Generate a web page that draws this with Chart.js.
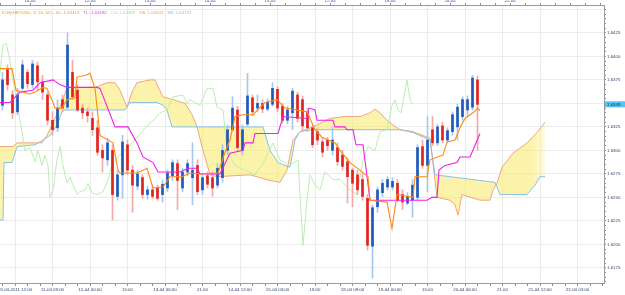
<!DOCTYPE html>
<html>
<head>
<meta charset="utf-8">
<script src="https://cdn.jsdelivr.net/npm/chart.js@4.4.0/dist/chart.umd.min.js"></script>
<style>
  html, body { margin: 0; padding: 0; background: #fff; }
  canvas { display: block; }
</style>
</head>
<body>
<canvas id="grafico" width="625" height="295"></canvas>
<script>
// candles de 2 horas (GBP/USD), na ordem
var abertura = [1.6348,1.6386,1.6359,1.6341,1.6366,1.6383,1.6370,1.6390,1.6373,1.6359,
  1.6332,1.6324,1.6354,1.6346,1.6383,1.6364,1.6345,1.6341,1.6334,1.6324,
  1.6300,1.6290,1.6300,1.6251,1.6274,1.6306,1.6279,1.6262,1.6271,1.6253,
  1.6258,1.6260,1.6253,1.6260,1.6273,1.6286,1.6260,1.6277,1.6271,1.6284,
  1.6258,1.6273,1.6271,1.6263,1.6271,1.6300,1.6322,1.6343,1.6300,1.6328,
  1.6356,1.6345,1.6350,1.6344,1.6349,1.6365,1.6347,1.6332,1.6340,1.6359,
  1.6354,1.6341,1.6324,1.6320,1.6309,1.6311,1.6300,1.6303,1.6295,1.6288,
  1.6279,1.6274,1.6269,1.6249,1.6198,1.6240,1.6255,1.6261,1.6261,1.6265,
  1.6253,1.6244,1.6247,1.6250,1.6304,1.6284,1.6322,1.6308,1.6326,1.6311,
  1.6320,1.6325,1.6336,1.6343,1.6346,1.6375];
var maxima = [1.6383,1.6391,1.6364,1.6366,1.6396,1.6386,1.6396,1.6394,1.6380,1.6362,
  1.6341,1.6354,1.6359,1.6425,1.6396,1.6370,1.6349,1.6345,1.6341,1.6332,
  1.6306,1.6313,1.6306,1.6279,1.6316,1.6311,1.6284,1.6279,1.6274,1.6262,
  1.6263,1.6263,1.6268,1.6279,1.6290,1.6290,1.6281,1.6290,1.6308,1.6290,
  1.6274,1.6277,1.6277,1.6286,1.6306,1.6327,1.6357,1.6347,1.6327,1.6382,
  1.6359,1.6359,1.6354,1.6355,1.6372,1.6368,1.6350,1.6347,1.6366,1.6362,
  1.6358,1.6345,1.6327,1.6324,1.6313,1.6314,1.6325,1.6308,1.6300,1.6292,
  1.6281,1.6279,1.6276,1.6253,1.6242,1.6261,1.6269,1.6272,1.6271,1.6269,
  1.6258,1.6255,1.6269,1.6306,1.6311,1.6336,1.6336,1.6328,1.6330,1.6324,
  1.6341,1.6349,1.6357,1.6358,1.6380,1.6379];
var minimos = [1.6343,1.6364,1.6334,1.6338,1.6364,1.6366,1.6366,1.6364,1.6354,1.6327,
  1.6316,1.6320,1.6341,1.6343,1.6354,1.6341,1.6334,1.6330,1.6316,1.6295,
  1.6277,1.6284,1.6226,1.6247,1.6249,1.6274,1.6234,1.6258,1.6249,1.6248,
  1.6249,1.6247,1.6245,1.6256,1.6268,1.6237,1.6256,1.6273,1.6242,1.6253,
  1.6253,1.6260,1.6251,1.6260,1.6266,1.6295,1.6320,1.6300,1.6295,1.6326,
  1.6337,1.6341,1.6340,1.6342,1.6347,1.6341,1.6329,1.6328,1.6322,1.6330,
  1.6322,1.6320,1.6303,1.6306,1.6293,1.6300,1.6295,1.6284,1.6279,1.6244,
  1.6240,1.6253,1.6247,1.6194,1.6164,1.6234,1.6251,1.6258,1.6258,1.6245,
  1.6237,1.6242,1.6229,1.6247,1.6281,1.6256,1.6305,1.6305,1.6308,1.6308,
  1.6316,1.6311,1.6332,1.6336,1.6343,1.6300];
var fechamento = [1.6375,1.6370,1.6340,1.6359,1.6391,1.6371,1.6392,1.6373,1.6362,1.6332,
  1.6322,1.6345,1.6345,1.6412,1.6357,1.6343,1.6340,1.6337,1.6322,1.6298,
  1.6292,1.6308,1.6253,1.6274,1.6309,1.6279,1.6263,1.6275,1.6253,1.6258,
  1.6251,1.6249,1.6264,1.6276,1.6287,1.6268,1.6277,1.6286,1.6279,1.6256,
  1.6271,1.6264,1.6260,1.6281,1.6300,1.6322,1.6345,1.6303,1.6322,1.6358,
  1.6341,1.6350,1.6344,1.6351,1.6366,1.6345,1.6332,1.6343,1.6363,1.6334,
  1.6326,1.6324,1.6306,1.6311,1.6298,1.6305,1.6311,1.6288,1.6283,1.6272,
  1.6265,1.6258,1.6251,1.6199,1.6239,1.6258,1.6265,1.6269,1.6267,1.6247,
  1.6245,1.6251,1.6263,1.6303,1.6284,1.6311,1.6308,1.6325,1.6311,1.6321,
  1.6338,1.6346,1.6354,1.6354,1.6377,1.6349];

// linhas do Ichimoku: posicao (horas de pregao) e valor
var horasSL = [0,4.8,6.4,12,14,17.2,18.8,21.2,22,24.8,26.8,30,30.8,34.4,36,38,40,45.2,47.2,48,54.8,58.8,61.2,65.2,68,72.8,76,80,87.2,90,92,94,97.2,101.2,106,110.8,114,118.8,122.8,126,128.8,134,136,140,144,147.2,148,154.8,156.8,158.8,165.2,166,170.8,172,177.2,178.8,182,184,186,189.2,191.2,192];
var valoresSL = [1.6387,1.6387,1.6364,1.6360,1.6362,1.6367,1.6366,1.6351,1.6345,1.6345,1.6354,1.6356,1.6378,1.6380,1.6382,1.6366,1.6316,1.6308,1.6279,1.6276,1.6276,1.6281,1.6260,1.6261,1.6272,1.6272,1.6276,1.6275,1.6276,1.6298,1.6311,1.6336,1.6338,1.6338,1.6351,1.6354,1.6345,1.6343,1.6341,1.6322,1.6314,1.6308,1.6300,1.6287,1.6279,1.6272,1.6247,1.6245,1.6217,1.6253,1.6250,1.6272,1.6272,1.6290,1.6295,1.6309,1.6311,1.6324,1.6334,1.6340,1.6345,1.6342];

var horasTL = [0,4,8,13.2,16,21.2,24,26.8,38.8,40,46,51.2,54.8,57.2,61.2,63.2,72,75.2,78.8,80,88,92,97.2,98,101.2,102,111.2,113.2,122.8,123.6,126,126.8,133.2,134,138,138.8,141.2,142.4,145.2,148,170.8,172.8,174.8,175.6,178,182.8,184,188,192];
var valoresTL = [1.6351,1.6351,1.6362,1.6364,1.6372,1.6375,1.6370,1.6367,1.6367,1.6366,1.6325,1.6325,1.6308,1.6293,1.6287,1.6277,1.6277,1.6281,1.6281,1.6275,1.6275,1.6297,1.6300,1.6308,1.6308,1.6318,1.6318,1.6336,1.6334,1.6345,1.6343,1.6332,1.6332,1.6325,1.6325,1.6322,1.6322,1.6306,1.6306,1.6247,1.6247,1.6250,1.6250,1.6279,1.6284,1.6287,1.6293,1.6293,1.6318];

var horasCS = [0,1.2,2.4,3.6,5.2,8,10,12,14,15.2,16.8,18,19.2,20,21.2,22.8,24,25.2,26.8,28,29.2,30.8,32,34,35.2,36.8,38.8,41.2,43.2,44.8,46.8,50,54,58,62,64,66.8,69.2,73.2,74.8,76,80,82.8,85.2,86.8,89.2,90.8,94,98,102,106,109.2,112,116,119.2,121.2,122.8,124,126,128,130,133.2,136,140,142.8,145.2,147.2,150,152,154.8,156.8,158,159.2,160.4,162.8,164,165.2];
var valoresCS = [1.6382,1.6412,1.6414,1.6401,1.6375,1.6332,1.6300,1.6303,1.6288,1.6300,1.6284,1.6295,1.6284,1.6250,1.6258,1.6290,1.6304,1.6284,1.6265,1.6272,1.6263,1.6253,1.6256,1.6258,1.6265,1.6255,1.6253,1.6256,1.6269,1.6284,1.6292,1.6300,1.6311,1.6324,1.6334,1.6340,1.6343,1.6357,1.6359,1.6350,1.6354,1.6348,1.6366,1.6366,1.6346,1.6343,1.6300,1.6284,1.6279,1.6274,1.6290,1.6308,1.6290,1.6284,1.6290,1.6199,1.6247,1.6274,1.6263,1.6258,1.6277,1.6269,1.6269,1.6258,1.6253,1.6290,1.6304,1.6300,1.6320,1.6322,1.6348,1.6354,1.6343,1.6340,1.6375,1.6354,1.6349];

var horasSA = [0,5.2,6.8,16.8,18.8,22,25.2,26.4,27.2,38,40,42.8,46,48,50.8,52.8,54.8,60,62,62.8,65.2,69.2,74,76.8,78.8,81.2,84,86.8,100,108,112,114.8,117.2,120,125.2,132,138,144,148,150,152,154.8,157.2,160,165.2,172,174.8,180,182,183.2,184.8,192,196,197.2,198.8,200.8,205.2,210.8,214.8,218];
var valoresSA = [1.6304,1.6304,1.6308,1.6308,1.6316,1.6334,1.6354,1.6364,1.6367,1.6367,1.6369,1.6372,1.6372,1.6364,1.6346,1.6362,1.6372,1.6375,1.6375,1.6370,1.6357,1.6354,1.6350,1.6338,1.6325,1.6300,1.6274,1.6272,1.6274,1.6268,1.6266,1.6279,1.6311,1.6320,1.6325,1.6334,1.6336,1.6336,1.6340,1.6344,1.6340,1.6332,1.6327,1.6322,1.6320,1.6313,1.6250,1.6247,1.6242,1.6231,1.6253,1.6247,1.6247,1.6258,1.6265,1.6282,1.6297,1.6308,1.6319,1.6330];

var horasSB = [0,1.2,1.6,4.8,6.8,14,17.2,20,22.8,24.8,26,50,50.8,52,62.8,65.2,66.8,68.8,105.2,108,111.2,116,118,120,125.2,160,165.2,172,174,198,200,210.8,214,216,218];
var valoresSB = [1.6226,1.6226,1.6287,1.6287,1.6304,1.6306,1.6311,1.6316,1.6327,1.6341,1.6343,1.6343,1.6346,1.6351,1.6351,1.6348,1.6343,1.6325,1.6325,1.6300,1.6287,1.6282,1.6311,1.6320,1.6322,1.6322,1.6319,1.6311,1.6274,1.6266,1.6253,1.6253,1.6263,1.6272,1.6272];

// eixos
var horasEixoBaixo = [6,21,36,51,66,81,96,111,126,141,156,171,186,201,216,231];
var rotulosEixoBaixo = ["09-04-2011 12:00","11-04 09:00","12-04 00:00","15:00","13-04 06:00","21:00","14-04 12:00","15-04 03:00","18:00","18-04 09:00","19-04 00:00","15:00","20-04 06:00","21:00","21-04 12:00","22-04 03:00"];
var horasEixoTopo = [12,36,60,84,108,132,156,180,204];
var rotulosEixoTopo = ["10-04","12-04","13-04","14-04","15-04","17-04","19-04","20-04","21-04"];

var legenda = [
  { texto: "ICH(GBP/USD, 9, 26, 52) - SL: 1.63419", cor: "#f5962e" },
  { texto: "TL: 1.63182", cor: "#e43be0" },
  { texto: "CS: 1.63489", cor: "#9ee39a" },
  { texto: "SA: 1.63305", cor: "#f2a47c" },
  { texto: "SB: 1.62722", cor: "#7dbde3" }
];
var ultimoPreco = 1.6349;

var fonte = { family: "Liberation Sans", size: 4.4 };
var corTexto = "#33446e";

// nuvem amarela, some perto da borda direita
var tela = document.getElementById("grafico");
var corNuvem = tela.getContext("2d").createLinearGradient(532, 0, 553, 0);
corNuvem.addColorStop(0, "rgba(250, 236, 120, 0.62)");
corNuvem.addColorStop(1, "rgba(250, 236, 120, 0)");

function pontos(horas, valores) {
  var lista = [];
  for (var i = 0; i < horas.length; i++) lista.push({ x: horas[i], y: valores[i] });
  return lista;
}

var pavios = [], corpos = [], corPavio = [], corCorpo = [];
for (var i = 0; i < fechamento.length; i++) {
  var h = 2 * i + 1;
  var alta = fechamento[i] >= abertura[i];
  pavios.push({ x: h, y: [minimos[i], maxima[i]] });
  corpos.push({ x: h, y: [abertura[i], fechamento[i]] });
  corPavio.push(alta ? "#a6c8ec" : "#f3a9a9");
  corCorpo.push(alta ? "#1d58ba" : "#e0231f");
}

var ticksBaixo = [];
for (var t = 1; t <= 241; t += 5) ticksBaixo.push({ value: t });
var ticksTopo = [];
for (var t2 = 0; t2 <= 240; t2 += 6) ticksTopo.push({ value: t2 });
var ticksY = [];
for (var k = 16160; k <= 16450; k += 5) ticksY.push({ value: k / 10000 });

function ehMaiorY(v) { return Math.round(v * 10000) % 25 === 0; }

const legendaICH = {
  id: "legendaICH",
  afterDraw(chart) {
    var ctx = chart.ctx;
    ctx.save();
    ctx.font = "4.4px 'Liberation Sans'";
    ctx.textBaseline = "middle";
    var x = 2;
    legenda.forEach(function (p) {
      ctx.fillStyle = p.cor;
      ctx.fillText(p.texto, x, 12.5);
      x += ctx.measureText(p.texto).width + 4;
    });
    var y = chart.scales.y.getPixelForValue(ultimoPreco);
    ctx.fillStyle = "#56c2ef";
    ctx.fillRect(chart.chartArea.right + 1, y - 3, 21, 6);
    ctx.fillStyle = "#17305c";
    ctx.fillText(ultimoPreco.toFixed(4), chart.chartArea.right + 3, y + 0.3);
    ctx.restore();
  }
};

new Chart(tela, {
  type: "line",
  data: {
    datasets: [
      { label: "SA", data: pontos(horasSA, valoresSA), borderColor: "#f2a47c", borderWidth: 1, pointRadius: 0,
        fill: { target: 1, above: corNuvem, below: corNuvem }, backgroundColor: corNuvem, order: 10 },
      { label: "SB", data: pontos(horasSB, valoresSB), borderColor: "#86c2e6", borderWidth: 1, pointRadius: 0, fill: false, order: 9 },
      { label: "CS", data: pontos(horasCS, valoresCS), borderColor: "#b9efb0", borderWidth: 1, pointRadius: 0, fill: false, order: 8 },
      { type: "bar", label: "pavio", data: pavios, backgroundColor: corPavio, barThickness: 1, grouped: false, order: 7 },
      { type: "bar", label: "corpo", data: corpos, backgroundColor: corCorpo, barThickness: 2, grouped: false, order: 6 },
      { label: "TL", data: pontos(horasTL, valoresTL), borderColor: "#f01ee8", borderWidth: 1.1, pointRadius: 0, fill: false, order: 5 },
      { label: "SL", data: pontos(horasSL, valoresSL), borderColor: "#ff8a12", borderWidth: 1.1, pointRadius: 0, fill: false, order: 4 }
    ]
  },
  options: {
    responsive: false,
    animation: false,
    devicePixelRatio: 1,
    layout: { padding: 0 },
    plugins: { legend: { display: false }, tooltip: { enabled: false } },
    scales: {
      x: {
        type: "linear", position: "bottom", min: 0, max: 241.6, offset: false,
        afterBuildTicks: function (s) { s.ticks = ticksBaixo.slice(); },
        afterFit: function (s) { s.height = 12; },
        ticks: {
          autoSkip: false, maxRotation: 0, padding: 1, font: fonte, color: corTexto,
          callback: function (v) { var i = horasEixoBaixo.indexOf(v); return i >= 0 ? rotulosEixoBaixo[i] : ""; }
        },
        grid: {
          offset: false, tickLength: 3, tickColor: "#8a8fa0",
          color: function (c) { return c.tick && horasEixoBaixo.indexOf(c.tick.value) >= 0 ? "#ebebeb" : "rgba(0,0,0,0)"; }
        },
        border: { color: "#9a9a9a" }
      },
      xTopo: {
        type: "linear", position: "top", min: 0, max: 241.6, offset: false,
        afterBuildTicks: function (s) { s.ticks = ticksTopo.slice(); },
        afterFit: function (s) { s.height = 5; },
        ticks: {
          autoSkip: false, maxRotation: 0, padding: 0, font: fonte, color: "#3a55a8",
          callback: function (v) { var i = horasEixoTopo.indexOf(v); return i >= 0 ? rotulosEixoTopo[i] : ""; }
        },
        grid: { drawOnChartArea: false, tickLength: 2, tickColor: "#8a8fa0" },
        border: { color: "#9a9a9a" }
      },
      y: {
        type: "linear", position: "right", min: 1.61589, max: 1.64547,
        afterBuildTicks: function (s) { s.ticks = ticksY.slice(); },
        afterFit: function (s) { s.width = 21; },
        ticks: {
          autoSkip: false, padding: 1, font: fonte, color: corTexto,
          callback: function (v) { return ehMaiorY(v) && v < 1.644 ? v.toFixed(4) : ""; }
        },
        grid: {
          tickLength: 2, tickColor: "#8a8fa0",
          color: function (c) { return c.tick && ehMaiorY(c.tick.value) ? "#ebebeb" : "rgba(0,0,0,0)"; }
        },
        border: { color: "#9a9a9a" }
      }
    }
  },
  plugins: [legendaICH]
});
</script>
</body>
</html>
